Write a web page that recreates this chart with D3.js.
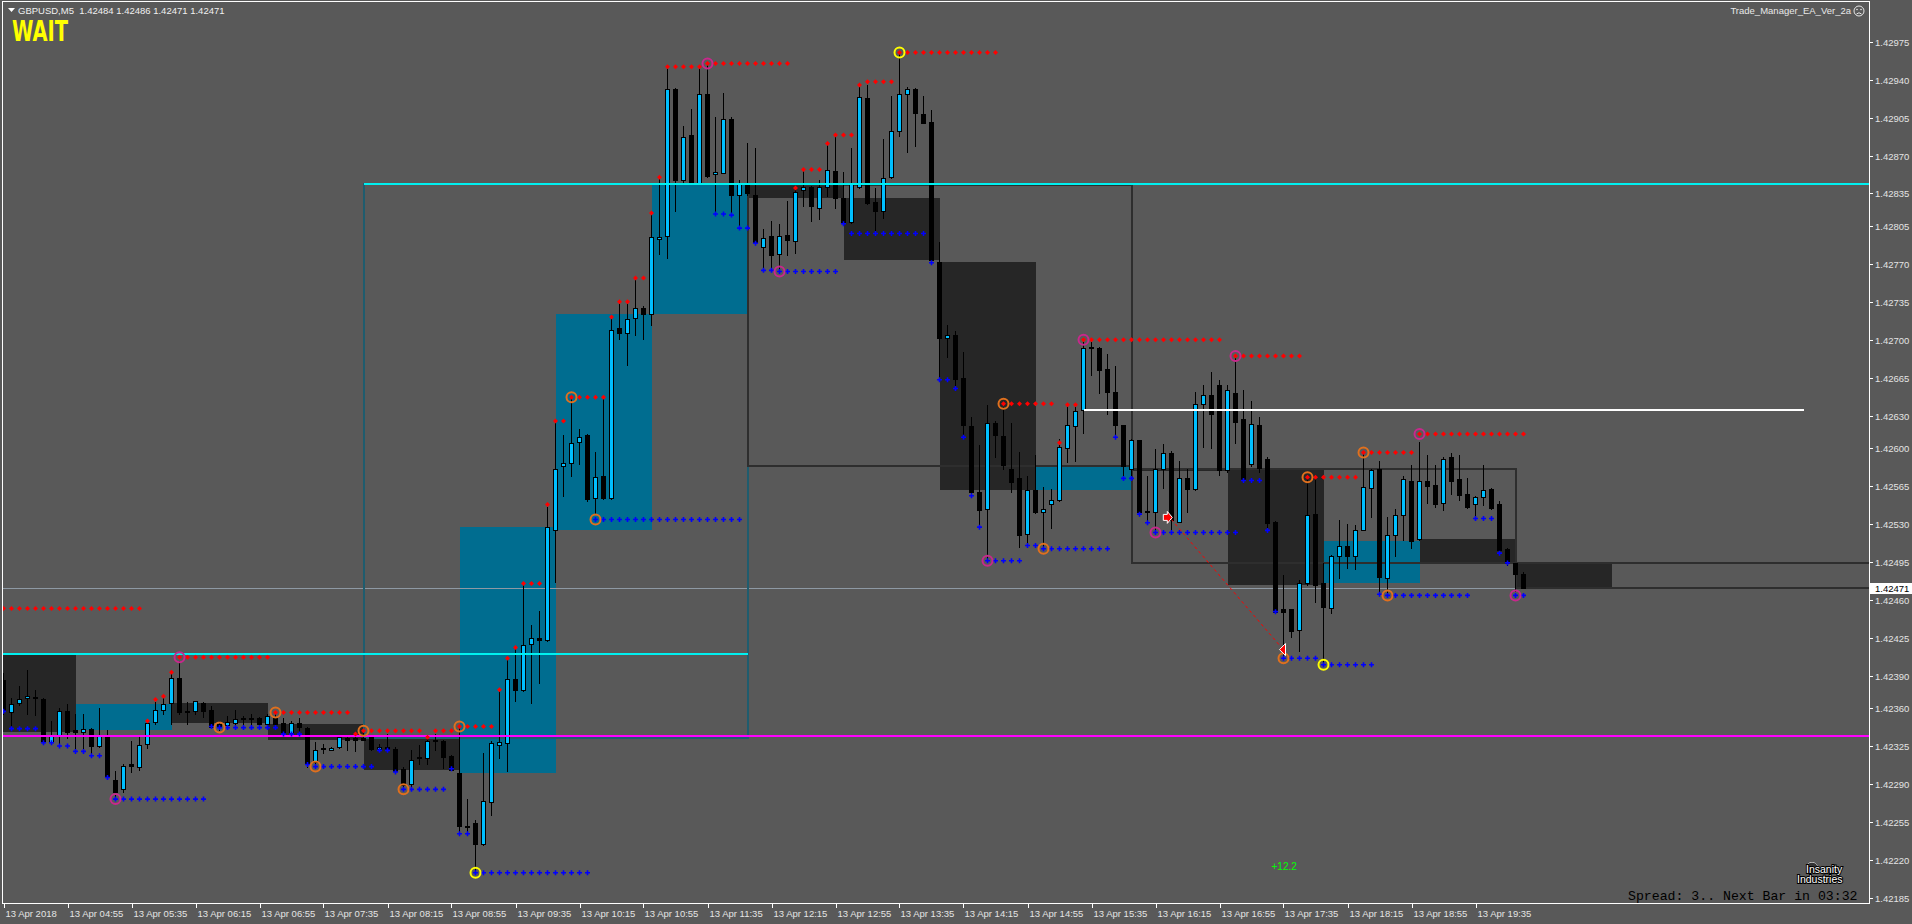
<!DOCTYPE html>
<html><head><meta charset="utf-8">
<script src="https://cdn.jsdelivr.net/npm/d3@7"></script>
<style>
html,body{margin:0;padding:0;background:#595959;overflow:hidden}
svg{display:block}
</style></head><body>
<svg id="c" width="1912" height="924"></svg>
<script>
// ---------------- DATA ----------------
const symbolTitle = "GBPUSD,M5";
const headerPrices = ["1.42484","1.42486","1.42471","1.42471"];
const open = [1.42386,1.42356,1.42365,1.42369,1.42370,1.42368,1.42329,1.42334,1.42357,1.42340,
1.42338,1.42341,1.42325,1.42333,1.42294,1.42285,1.42308,1.42306,1.42327,1.42347,
1.42358,1.42365,1.42388,1.42357,1.42357,1.42365,1.42358,1.42345,1.42344,1.42346,
1.42351,1.42350,1.42351,1.42345,1.42351,1.42346,1.42337,1.42346,1.42342,1.42310,
1.42323,1.42321,1.42324,1.42332,1.42332,1.42332,1.42333,1.42322,1.42324,1.42322,
1.42304,1.42290,1.42315,1.42314,1.42331,1.42330,1.42316,1.42300,1.42251,1.42254,
1.42235,1.42273,1.42326,1.42328,1.42387,1.42377,1.42419,1.42425,1.42423,1.42524,
1.42583,1.42586,1.42606,1.42612,1.42554,1.42574,1.42554,1.42711,1.42706,1.42720,
1.42729,1.42724,1.42793,1.42796,1.42931,1.42847,1.42889,1.42845,1.42927,1.42853,
1.42854,1.42904,1.42834,1.42843,1.42834,1.42786,1.42796,1.42779,1.42797,1.42791,
1.42838,1.42841,1.42822,1.42841,1.42856,1.42831,1.42809,1.42841,1.42923,1.42827,
1.42819,1.42850,1.42893,1.42927,1.42931,1.42908,1.42901,1.42772,1.42702,1.42704,
1.42665,1.42620,1.42559,1.42544,1.42623,1.42611,1.42581,1.42572,1.42521,1.42561,
1.42541,1.42548,1.42552,1.42600,1.42620,1.42635,1.42693,1.42692,1.42673,1.42652,
1.42621,1.42581,1.42607,1.42542,1.42541,1.42581,1.42595,1.42532,1.42572,1.42562,
1.42641,1.42649,1.42658,1.42580,1.42651,1.42627,1.42585,1.42621,1.42590,1.42532,
1.42451,1.42451,1.42432,1.42475,1.42539,1.42475,1.42452,1.42500,1.42510,1.42500,
1.42524,1.42563,1.42581,1.42480,1.42520,1.42538,1.42570,1.42516,1.42570,1.42566,
1.42549,1.42592,1.42571,1.42558,1.42548,1.42555,1.42562,1.42548,1.42507,1.42494,
1.42484];
const high = [1.42392,1.42369,1.42380,1.42395,1.42377,1.42369,1.42348,1.42360,1.42364,1.42355,
1.42355,1.42342,1.42360,1.42340,1.42302,1.42308,1.42330,1.42334,1.42350,1.42366,
1.42371,1.42393,1.42403,1.42366,1.42367,1.42366,1.42362,1.42348,1.42353,1.42358,
1.42353,1.42355,1.42352,1.42355,1.42355,1.42351,1.42348,1.42351,1.42343,1.42329,
1.42327,1.42324,1.42334,1.42333,1.42336,1.42340,1.42334,1.42327,1.42336,1.42324,
1.42306,1.42321,1.42326,1.42334,1.42336,1.42331,1.42317,1.42343,1.42276,1.42257,
1.42319,1.42330,1.42377,1.42405,1.42416,1.42475,1.42437,1.42450,1.42546,1.42625,
1.42612,1.42646,1.42618,1.42613,1.42596,1.42646,1.42721,1.42734,1.42734,1.42755,
1.42731,1.42817,1.42849,1.42952,1.42932,1.42897,1.42913,1.42954,1.42955,1.42906,
1.42928,1.42906,1.42847,1.42882,1.42877,1.42802,1.42810,1.42807,1.42828,1.42841,
1.42857,1.42842,1.42847,1.42881,1.42887,1.42855,1.42877,1.42934,1.42935,1.42840,
1.42885,1.42925,1.42966,1.42933,1.42932,1.42925,1.42912,1.42790,1.42714,1.42708,
1.42689,1.42629,1.42603,1.42640,1.42625,1.42638,1.42623,1.42596,1.42574,1.42594,
1.42564,1.42562,1.42608,1.42641,1.42638,1.42700,1.42698,1.42693,1.42687,1.42676,
1.42621,1.42608,1.42607,1.42574,1.42599,1.42604,1.42597,1.42588,1.42581,1.42652,
1.42658,1.42670,1.42663,1.42658,1.42685,1.42654,1.42643,1.42629,1.42592,1.42533,
1.42483,1.42451,1.42478,1.42573,1.42572,1.42494,1.42501,1.42534,1.42530,1.42529,
1.42596,1.42581,1.42588,1.42536,1.42544,1.42574,1.42584,1.42606,1.42594,1.42584,
1.42592,1.42595,1.42594,1.42572,1.42556,1.42584,1.42563,1.42551,1.42508,1.42494,
1.42486];
const low = [1.42355,1.42341,1.42363,1.42355,1.42354,1.42327,1.42327,1.42326,1.42332,1.42321,
1.42322,1.42317,1.42324,1.42295,1.42277,1.42283,1.42301,1.42303,1.42323,1.42345,
1.42355,1.42345,1.42355,1.42345,1.42355,1.42352,1.42342,1.42340,1.42343,1.42343,
1.42343,1.42344,1.42344,1.42343,1.42343,1.42337,1.42336,1.42337,1.42306,1.42306,
1.42319,1.42321,1.42323,1.42321,1.42320,1.42331,1.42321,1.42320,1.42321,1.42301,
1.42285,1.42287,1.42308,1.42308,1.42321,1.42305,1.42303,1.42244,1.42244,1.42207,
1.42234,1.42261,1.42314,1.42302,1.42367,1.42376,1.42365,1.42383,1.42422,1.42476,
1.42556,1.42574,1.42585,1.42551,1.42539,1.42553,1.42553,1.42701,1.42677,1.42704,
1.42701,1.42714,1.42779,1.42775,1.42819,1.42844,1.42844,1.42844,1.42850,1.42817,
1.42854,1.42815,1.42803,1.42834,1.42788,1.42764,1.42764,1.42763,1.42778,1.42780,
1.42823,1.42810,1.42811,1.42833,1.42822,1.42808,1.42808,1.42840,1.42825,1.42798,
1.42812,1.42849,1.42888,1.42873,1.42879,1.42900,1.42770,1.42664,1.42684,1.42655,
1.42611,1.42557,1.42528,1.42497,1.42592,1.42581,1.42559,1.42509,1.42511,1.42540,
1.42509,1.42526,1.42551,1.42587,1.42588,1.42614,1.42667,1.42651,1.42631,1.42611,
1.42572,1.42572,1.42539,1.42532,1.42524,1.42563,1.42523,1.42532,1.42541,1.42561,
1.42601,1.42600,1.42575,1.42578,1.42605,1.42569,1.42583,1.42578,1.42524,1.42448,
1.42406,1.42426,1.42413,1.42474,1.42458,1.42400,1.42448,1.42480,1.42489,1.42488,
1.42524,1.42536,1.42464,1.42464,1.42500,1.42515,1.42508,1.42515,1.42549,1.42546,
1.42543,1.42558,1.42552,1.42545,1.42537,1.42547,1.42544,1.42504,1.42492,1.42468,
1.42471];
const close = [1.42357,1.42364,1.42368,1.42371,1.42369,1.42329,1.42334,1.42357,1.42338,1.42338,
1.42341,1.42325,1.42334,1.42297,1.42283,1.42307,1.42307,1.42326,1.42346,1.42358,
1.42364,1.42388,1.42356,1.42356,1.42367,1.42357,1.42343,1.42343,1.42347,1.42350,
1.42350,1.42351,1.42345,1.42353,1.42345,1.42337,1.42346,1.42343,1.42308,1.42321,
1.42322,1.42323,1.42333,1.42331,1.42331,1.42331,1.42322,1.42324,1.42321,1.42302,
1.42289,1.42312,1.42314,1.42330,1.42330,1.42315,1.42303,1.42251,1.42250,1.42235,
1.42274,1.42328,1.42329,1.42387,1.42377,1.42418,1.42425,1.42423,1.42527,1.42581,
1.42586,1.42605,1.42610,1.42553,1.42573,1.42554,1.42709,1.42706,1.42719,1.42729,
1.42724,1.42795,1.42795,1.42931,1.42847,1.42887,1.42846,1.42927,1.42851,1.42855,
1.42904,1.42834,1.42844,1.42835,1.42789,1.42794,1.42778,1.42796,1.42792,1.42836,
1.42841,1.42823,1.42841,1.42857,1.42831,1.42809,1.42844,1.42924,1.42826,1.42819,
1.42849,1.42893,1.42927,1.42931,1.42909,1.42900,1.42774,1.42702,1.42704,1.42664,
1.42621,1.42559,1.42543,1.42623,1.42612,1.42584,1.42569,1.42520,1.42561,1.42541,
1.42544,1.42552,1.42601,1.42621,1.42634,1.42692,1.42692,1.42672,1.42652,1.42621,
1.42583,1.42607,1.42541,1.42541,1.42581,1.42595,1.42534,1.42572,1.42562,1.42641,
1.42649,1.42631,1.42580,1.42654,1.42624,1.42571,1.42622,1.42582,1.42531,1.42449,
1.42449,1.42431,1.42475,1.42538,1.42474,1.42453,1.42500,1.42510,1.42500,1.42524,
1.42564,1.42580,1.42481,1.42520,1.42538,1.42571,1.42514,1.42570,1.42565,1.42548,
1.42590,1.42570,1.42557,1.42546,1.42555,1.42561,1.42545,1.42506,1.42494,1.42484,
1.42471];

// time axis labels (every 8 bars)
const timeLabels = ["13 Apr 2018","13 Apr 04:55","13 Apr 05:35","13 Apr 06:15","13 Apr 06:55","13 Apr 07:35",
"13 Apr 08:15","13 Apr 08:55","13 Apr 09:35","13 Apr 10:15","13 Apr 10:55","13 Apr 11:35","13 Apr 12:15",
"13 Apr 12:55","13 Apr 13:35","13 Apr 14:15","13 Apr 14:55","13 Apr 15:35","13 Apr 16:15","13 Apr 16:55",
"13 Apr 17:35","13 Apr 18:15","13 Apr 18:55","13 Apr 19:35"];
const priceTicks = [1.42975,1.42940,1.42905,1.42870,1.42835,1.42805,1.42770,1.42735,1.42700,1.42665,1.42630,
1.42600,1.42565,1.42530,1.42495,1.42460,1.42425,1.42390,1.42360,1.42325,1.42290,1.42255,1.42220,1.42185];
const bidPrice = 1.42471;

// hourly candle-body boxes
const h1Start = [-3,9,21,33,45,57,69,81,93,105,117,129,141,153,165,177,189];
const h1Open  = [1.42409,1.42340,1.42365,1.42345,1.42332,1.42300,1.42524,1.42724,1.42843,1.42831,1.42772,1.42561,1.42581,1.42580,1.42475,1.42516,1.42494];
const h1Close = [1.42338,1.42364,1.42346,1.42331,1.42303,1.42527,1.42724,1.42844,1.42831,1.42774,1.42561,1.42583,1.42580,1.42474,1.42514,1.42494,1.42471];
// 4-hour candle outlines
const h4Start = [45,93,141,189];
const h4Open  = [1.42332,1.42843,1.42581,1.42494];
const h4Close = [1.42844,1.42583,1.42494,1.42471];

// horizontal levels [fromBar, toBar, price]
const cyanLevels = [[45,260,1.42844],[-5,93,1.42410]];
const magentaLevel = [[-5,260,1.42334]];
const whiteLevel = [[135,225,1.42635]];

// dotted resistance (red) and support (blue) levels [fromBar, toBar, price]
const redLevels = [[0,17,1.42452],[18,18,1.42348],[19,19,1.42368],[20,20,1.42371],[21,21,1.42393],[22,33,1.42407],
[34,43,1.42356],[44,44,1.42336],[45,52,1.42339],[53,53,1.42333],[54,56,1.42339],[57,61,1.42343],[62,62,1.42377],
[63,63,1.42406],[64,64,1.42416],[65,67,1.42475],[68,68,1.42548],[69,70,1.42625],[71,75,1.42647],[76,76,1.42721],
[77,78,1.42735],[79,80,1.42757],[81,81,1.42817],[82,82,1.42850],[83,87,1.42952],[88,98,1.42955],[99,99,1.42840],
[100,102,1.42857],[103,103,1.42881],[104,106,1.42889],[107,107,1.42935],[108,111,1.42938],[112,124,1.42965],
[125,131,1.42641],[132,132,1.42605],[133,134,1.42640],[135,152,1.42700],[154,162,1.42685],[163,169,1.42573],
[170,176,1.42596],[177,190,1.42613]];
const blueLevels = [[0,0,1.42357],[1,4,1.42341],[5,6,1.42328],[7,8,1.42325],[9,10,1.42320],[11,12,1.42316],[13,13,1.42296],
[14,25,1.42276],[26,26,1.42343],[27,34,1.42342],[35,37,1.42336],[38,38,1.42308],[39,46,1.42306],[47,48,1.42321],
[49,49,1.42301],[50,55,1.42285],[56,56,1.42304],[57,58,1.42244],[59,73,1.42208],[74,92,1.42534],[89,90,1.42816],
[91,91,1.42815],[92,93,1.42803],[94,94,1.42789],[95,96,1.42764],[97,104,1.42763],[105,105,1.42807],[106,115,1.42798],
[116,116,1.42771],[117,118,1.42663],[119,119,1.42655],[120,120,1.42610],[121,121,1.42556],[122,122,1.42527],
[123,127,1.42496],[128,129,1.42510],[130,138,1.42507],[139,139,1.42610],[140,141,1.42572],[142,142,1.42539],
[143,143,1.42531],[144,154,1.42522],[155,157,1.42570],[158,158,1.42524],[159,159,1.42449],[160,164,1.42406],
[165,171,1.42400],[172,172,1.42465],[173,183,1.42464],[184,186,1.42535],[187,187,1.42503],[188,188,1.42494],
[189,190,1.42464]];

// swing circles
const circleBar   = [14,22,88,97,123,135,144,154,177,189, 27,34,39,45,50,57,71,74,125,130,160,163,170,173, 59,112,165];
const circlePrice = [1.42276,1.42407,1.42955,1.42763,1.42496,1.42700,1.42522,1.42685,1.42613,1.42464,
1.42342,1.42356,1.42306,1.42339,1.42285,1.42343,1.42647,1.42534,1.42641,1.42507,1.42406,1.42573,1.42596,1.42464,
1.42208,1.42965,1.42400];
const circleKind  = ["m","m","m","m","m","m","m","m","m","m","o","o","o","o","o","o","o","o","o","o","o","o","o","o","y","y","y"];

// trade history arrow
const tradeBars = [145.6,160];
const tradePrices = [1.42536,1.42414];
const tradeResult = "+12.2";

// ---------------- DRAW ----------------
const svg = d3.select("#c");
const PL=2, PT=2, PR=1869, PB=903;
const x = d3.scaleLinear().domain([0,190]).range([3.5,1523.5]);
const y = d3.scaleLinear().domain([1.421801,1.430117]).range([PB,PT]);
const ry = v => Math.round(y(v));

svg.append("rect").attr("width",1912).attr("height",924).attr("fill","#595959");
svg.append("defs").append("clipPath").attr("id","clip").append("rect")
  .attr("x",PL).attr("y",PT).attr("width",PR-PL).attr("height",PB-PT);
const g = svg.append("g").attr("clip-path","url(#clip)").attr("shape-rendering","crispEdges");

// hourly boxes
h1Start.forEach((s,i)=>{
  const bull = h1Close[i] > h1Open[i];
  const t = Math.min(ry(h1Open[i]), ry(h1Close[i])), b = Math.max(ry(h1Open[i]), ry(h1Close[i]));
  g.append("rect").attr("x",x(s)).attr("y",t).attr("width",x(s+12)-x(s)).attr("height",Math.max(2,b-t))
    .attr("fill", bull ? "#006d90" : "#262626");
});
// bid line
g.append("line").attr("x1",PL).attr("x2",PR).attr("y1",ry(bidPrice)+0.5).attr("y2",ry(bidPrice)+0.5)
  .attr("stroke","#8e99a4").attr("stroke-width",1);
// 4h outlines
h4Start.forEach((s,i)=>{
  const bull = h4Close[i] > h4Open[i];
  const t = Math.min(ry(h4Open[i]), ry(h4Close[i])), b = Math.max(ry(h4Open[i]), ry(h4Close[i]));
  g.append("rect").attr("x",x(s)).attr("y",t).attr("width",x(s+48)-x(s)).attr("height",b-t)
    .attr("fill","none").attr("stroke", bull ? "#1f5c6e" : "#2e2e2e").attr("stroke-width",2);
});

// candles
const idx = d3.range(open.length);
idx.forEach(i=>{
  const cx = x(i);
  g.append("line").attr("x1",cx).attr("x2",cx).attr("y1",ry(high[i])).attr("y2",ry(low[i])+1)
    .attr("stroke","#000").attr("stroke-width",1);
  const bull = close[i] > open[i];
  const t = Math.min(ry(open[i]), ry(close[i])), b = Math.max(ry(open[i]), ry(close[i]));
  if (b - t < 1) {
    g.append("line").attr("x1",cx-2.5).attr("x2",cx+2.5).attr("y1",t+0.5).attr("y2",t+0.5)
      .attr("stroke","#000").attr("stroke-width",1);
  } else {
    g.append("rect").attr("x",cx-2).attr("y",t+0.5).attr("width",4).attr("height",b-t)
      .attr("fill", bull ? "#00bfff" : "#000").attr("stroke","#000").attr("stroke-width",1);
  }
});

// level lines
const hline = (arr,color,w)=>arr.forEach(([a,b,p])=>{
  const yy = ry(p);
  g.append("line").attr("x1",Math.max(PL,x(a))).attr("x2",Math.min(PR,x(b))).attr("y1",yy).attr("y2",yy)
    .attr("stroke",color).attr("stroke-width",w);
});
hline(cyanLevels,"#00f0f0",2);
hline(magentaLevel,"#ff00ff",2);
hline(whiteLevel,"#ffffff",2);

// dotted levels
const diamond = "M0,-2.5L2.5,0L0,2.5L-2.5,0Z";
const cross = "M-0.8,-2.5H0.8V-0.8H2.5V0.8H0.8V2.5H-0.8V0.8H-2.5V-0.8H-0.8Z";
const dotsG = svg.append("g").attr("clip-path","url(#clip)");
redLevels.forEach(([a,b,p])=>{
  d3.range(a,b+1).forEach(k=>{
    dotsG.append("path").attr("d",diamond).attr("transform",`translate(${x(k)},${y(p)})`).attr("fill","#ff0000");
  });
});
blueLevels.forEach(([a,b,p])=>{
  d3.range(a,b+1).forEach(k=>{
    dotsG.append("path").attr("d",cross).attr("transform",`translate(${x(k)},${y(p)})`).attr("fill","#0000ff");
  });
});
const ringColor = {m:"#c8288c", o:"#e0701e", y:"#ffff00"};
circleBar.forEach((bIdx,i)=>{
  dotsG.append("circle").attr("cx",x(bIdx)).attr("cy",y(circlePrice[i])).attr("r",5)
    .attr("fill","none").attr("stroke",ringColor[circleKind[i]]).attr("stroke-width",2);
});

// trade arrows
dotsG.append("line").attr("x1",x(tradeBars[0])+3).attr("y1",y(tradePrices[0])+2)
  .attr("x2",x(tradeBars[1])-2).attr("y2",y(tradePrices[1])-2)
  .attr("stroke","#ff0000").attr("stroke-width",1).attr("stroke-dasharray","3,3");
{
  const ax = x(tradeBars[0]), ay = y(tradePrices[0]);
  dotsG.append("path").attr("d",`M${ax-5},${ay-3}h4v-3l5,6l-5,6v-3h-4z`).attr("fill","#ff0000").attr("stroke","#fff").attr("stroke-width",1);
  const bx = x(tradeBars[1]), by = y(tradePrices[1]);
  dotsG.append("path").attr("d",`M${bx+2},${by-6}v12l-6,-6z`).attr("fill","#ff0000").attr("stroke","#fff").attr("stroke-width",1);
}
svg.append("text").attr("x",x(tradeBars[1])-12).attr("y",870).attr("fill","#00ff00")
  .attr("font-family","Liberation Sans, Arial, sans-serif").attr("font-size",10).text(tradeResult);

// frame
const fr = svg.append("g").attr("shape-rendering","crispEdges");
fr.append("path").attr("d",`M${PL+0.5},${PB+0.5}V${PT-0.5}H${PR+0.5}V${PB+0.5}H${PL+0.5}`)
  .attr("fill","none").attr("stroke","#ffffff").attr("stroke-width",1);

// y axis
const axisFont = "Liberation Sans, Arial, sans-serif";
priceTicks.forEach(v=>{
  const yy = ry(v)+0.5;
  fr.append("line").attr("x1",PR).attr("x2",PR+4).attr("y1",yy).attr("y2",yy).attr("stroke","#fff");
  svg.append("text").attr("x",PR+6).attr("y",yy+3.5).attr("fill","#e4e4e4")
    .attr("font-family",axisFont).attr("font-size",9.5).text(v.toFixed(5));
});
// bid label
svg.append("rect").attr("x",PR+1).attr("y",ry(bidPrice)-5).attr("width",1912-PR-1).attr("height",11).attr("fill","#ffffff");
svg.append("text").attr("x",PR+6).attr("y",ry(bidPrice)+4).attr("fill","#000")
  .attr("font-family",axisFont).attr("font-size",9.5).text(bidPrice.toFixed(5));

// x axis
timeLabels.forEach((t,i)=>{
  const xx = Math.round(x(i*8))+0.5;
  fr.append("line").attr("x1",xx).attr("x2",xx).attr("y1",PB).attr("y2",PB+5).attr("stroke","#fff");
  svg.append("text").attr("x",xx+1).attr("y",917).attr("fill","#e4e4e4")
    .attr("font-family",axisFont).attr("font-size",9.5).text(t);
});

// header
svg.append("path").attr("d","M8,8h7l-3.5,4z").attr("fill","#fff");
svg.append("text").attr("x",18).attr("y",14).attr("fill","#f0f0f0").attr("font-family",axisFont).attr("font-size",9.5)
  .attr("xml:space","preserve").text(symbolTitle + "  " + headerPrices.join(" "));
svg.append("text").attr("x",12).attr("y",41).attr("fill","#ffff00")
  .attr("font-family","Liberation Sans Narrow, DejaVu Sans Condensed, Liberation Sans, sans-serif")
  .attr("font-weight","bold").attr("font-size",28).attr("textLength",56).attr("lengthAdjust","spacingAndGlyphs").text("WAIT");
svg.append("text").attr("x",1851).attr("y",14).attr("text-anchor","end").attr("fill","#e8e8e8")
  .attr("font-family",axisFont).attr("font-size",9.5).text("Trade_Manager_EA_Ver_2a");
{
  const fg = svg.append("g").attr("transform","translate(1859,11)");
  fg.append("circle").attr("r",5).attr("fill","none").attr("stroke","#e8e8e8").attr("stroke-width",1);
  fg.append("circle").attr("cx",-2).attr("cy",-1.5).attr("r",0.8).attr("fill","#e8e8e8");
  fg.append("circle").attr("cx",2).attr("cy",-1.5).attr("r",0.8).attr("fill","#e8e8e8");
  fg.append("path").attr("d","M-2.5,3Q0,0.5 2.5,3").attr("fill","none").attr("stroke","#e8e8e8");
}

// bottom-right info
svg.append("text").attr("x",1628).attr("y",900).attr("fill","#000")
  .attr("font-family","Liberation Mono, DejaVu Sans Mono, monospace").attr("font-size",13.2)
  .attr("xml:space","preserve").text("Spread: 3.. Next Bar in 03:32");
{
  const lg = svg.append("g").attr("font-family",axisFont).attr("font-size",10.5).attr("fill","#fff")
    .attr("stroke","#000").attr("stroke-width",2).attr("paint-order","stroke");
  lg.append("circle").attr("cx",1812).attr("cy",868).attr("r",5.5).attr("fill","#333").attr("stroke","#fff").attr("stroke-width",1);
  lg.append("text").attr("x",1806).attr("y",873).text("Insanity");
  lg.append("text").attr("x",1797).attr("y",883).text("Industries");
}
</script>
</body></html>
